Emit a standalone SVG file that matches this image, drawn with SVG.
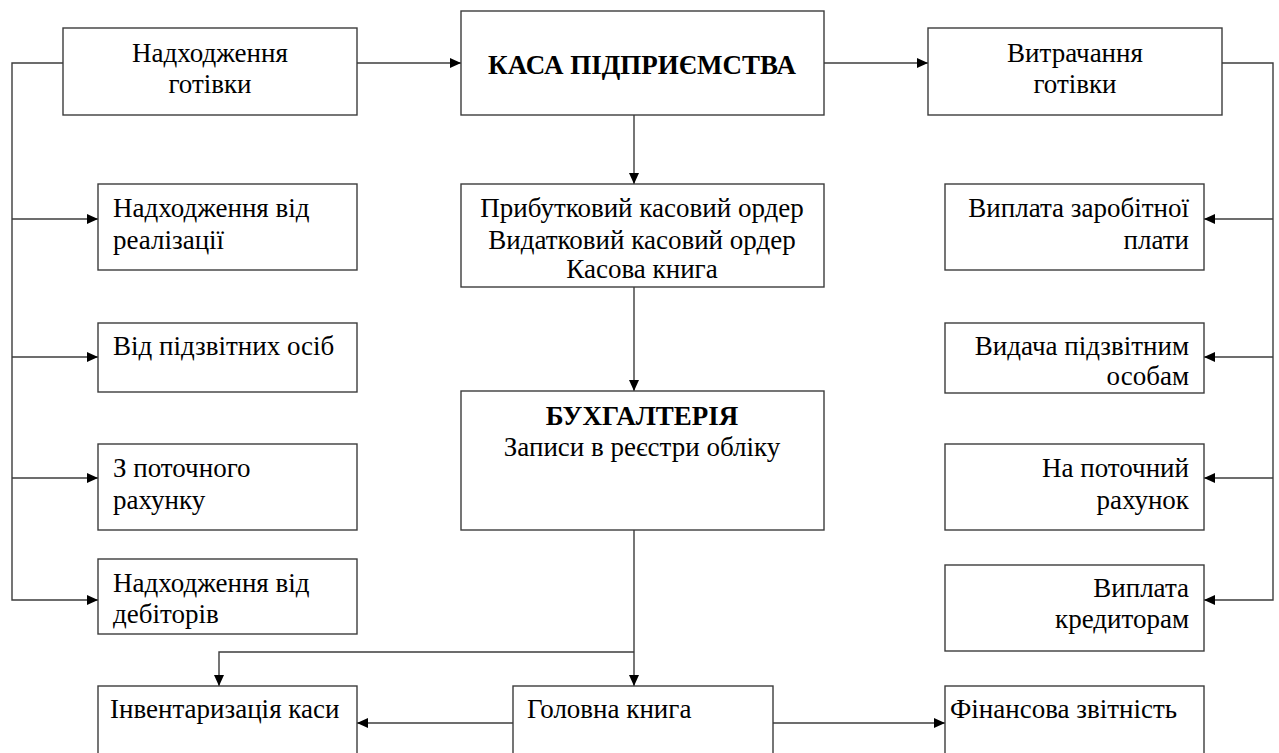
<svg xmlns="http://www.w3.org/2000/svg" width="1279" height="753" viewBox="0 0 1279 753">
<defs>
<marker id="ah" markerUnits="userSpaceOnUse" markerWidth="12" markerHeight="10" refX="11" refY="5" orient="auto">
<path d="M0,0 L11,5 L0,10 Z" fill="#000"/>
</marker>
<style>
.box{fill:#fff;stroke:#3c3c3c;stroke-width:1.4}
text{font-family:'Liberation Serif','Times New Roman',serif;font-size:27px;fill:#000}
.c{text-anchor:middle}
.r{text-anchor:end}
.b{font-weight:bold}
.ln{fill:none;stroke:#3c3c3c;stroke-width:1.4}
</style>
</defs>
<rect width="1279" height="753" fill="#fff"/>
<g id="connectors">
<path class="ln" d="M357,63 H461" marker-end="url(#ah)"/>
<path class="ln" d="M824,63 H928" marker-end="url(#ah)"/>
<path class="ln" d="M63,63 H12 V600 H98" marker-end="url(#ah)"/>
<path class="ln" d="M12,219 H98" marker-end="url(#ah)"/>
<path class="ln" d="M12,357 H98" marker-end="url(#ah)"/>
<path class="ln" d="M12,478 H98" marker-end="url(#ah)"/>
<path class="ln" d="M1222,63 H1273 V600 H1204" marker-end="url(#ah)"/>
<path class="ln" d="M1273,219 H1204" marker-end="url(#ah)"/>
<path class="ln" d="M1273,357 H1204" marker-end="url(#ah)"/>
<path class="ln" d="M1273,478 H1204" marker-end="url(#ah)"/>
<path class="ln" d="M634,115 V184" marker-end="url(#ah)"/>
<path class="ln" d="M634,287 V391" marker-end="url(#ah)"/>
<path class="ln" d="M634,530 V686" marker-end="url(#ah)"/>
<path class="ln" d="M634,652 H219 V686" marker-end="url(#ah)"/>
<path class="ln" d="M513,723 H357" marker-end="url(#ah)"/>
<path class="ln" d="M773,723 H945" marker-end="url(#ah)"/>
</g>
<g id="n-nadhodzhennia">
<rect class="box" x="63" y="28" width="294" height="87"/>
<text class="c" x="210" y="62">Надходження</text>
<text class="c" x="210" y="93">готівки</text>
</g>
<g id="n-kasa">
<rect class="box" x="461" y="11" width="363" height="104"/>
<text class="c b" x="642" y="74">КАСА ПІДПРИЄМСТВА</text>
</g>
<g id="n-vytrachannia">
<rect class="box" x="928" y="28" width="294" height="87"/>
<text class="c" x="1075" y="62">Витрачання</text>
<text class="c" x="1075" y="93">готівки</text>
</g>
<g id="n-realizatsii">
<rect class="box" x="98" y="184" width="259" height="86"/>
<text x="113" y="217">Надходження від</text>
<text x="113" y="249">реалізації</text>
</g>
<g id="n-pidzvitnykh">
<rect class="box" x="98" y="323" width="259" height="69"/>
<text x="113" y="355">Від підзвітних осіб</text>
</g>
<g id="n-potochnoho">
<rect class="box" x="98" y="444" width="259" height="86"/>
<text x="113" y="477">З поточного</text>
<text x="113" y="509">рахунку</text>
</g>
<g id="n-debitoriv">
<rect class="box" x="98" y="559" width="259" height="75"/>
<text x="113" y="592">Надходження від</text>
<text x="113" y="623">дебіторів</text>
</g>
<g id="n-ordery">
<rect class="box" x="461" y="184" width="363" height="103"/>
<text class="c" x="642" y="217">Прибутковий касовий ордер</text>
<text class="c" x="642" y="249">Видатковий касовий ордер</text>
<text class="c" x="642" y="278">Касова книга</text>
</g>
<g id="n-buhhalteriia">
<rect class="box" x="461" y="391" width="363" height="139"/>
<text class="c b" x="642" y="425">БУХГАЛТЕРІЯ</text>
<text class="c" x="642" y="456">Записи в реєстри обліку</text>
</g>
<g id="n-zarplata">
<rect class="box" x="945" y="184" width="259" height="86"/>
<text class="r" x="1189" y="217">Виплата заробітної</text>
<text class="r" x="1189" y="249">плати</text>
</g>
<g id="n-vydacha">
<rect class="box" x="945" y="323" width="259" height="70"/>
<text class="r" x="1189" y="355">Видача підзвітним</text>
<text class="r" x="1189" y="385">особам</text>
</g>
<g id="n-na-potochnyi">
<rect class="box" x="945" y="444" width="259" height="86"/>
<text class="r" x="1189" y="477">На поточний</text>
<text class="r" x="1189" y="509">рахунок</text>
</g>
<g id="n-kredytoram">
<rect class="box" x="945" y="565" width="259" height="86"/>
<text class="r" x="1189" y="597">Виплата</text>
<text class="r" x="1189" y="628">кредиторам</text>
</g>
<g id="n-inventaryzatsiia">
<rect class="box" x="98" y="686" width="259" height="90"/>
<text x="110" y="718">Інвентаризація каси</text>
</g>
<g id="n-holovna">
<rect class="box" x="513" y="686" width="260" height="90"/>
<text x="527" y="718">Головна книга</text>
</g>
<g id="n-finansova">
<rect class="box" x="945" y="686" width="259" height="90"/>
<text x="950" y="718">Фінансова звітність</text>
</g>
</svg>
